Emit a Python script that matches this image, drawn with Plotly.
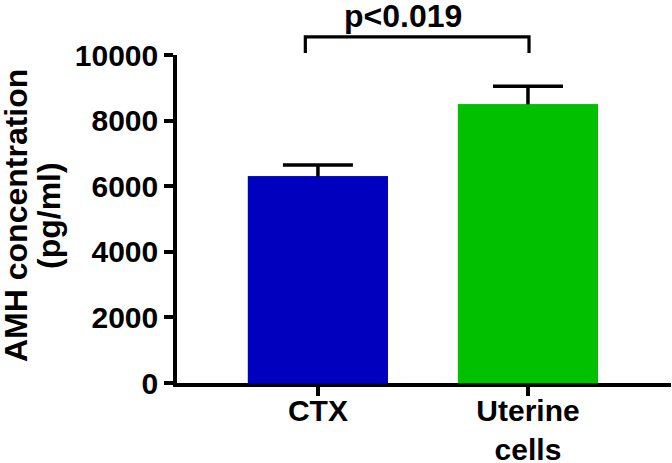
import plotly.graph_objects as go

# ---- data ----
categories = ["CTX", "Uterine<br>cells"]
means = [6300, 8500]
sem = [350, 550]
bar_colors = ["#0000BE", "#00C000"]
y_tick_vals = [0, 2000, 4000, 6000, 8000, 10000]
y_tick_text = ["0", "2000", "4000", "6000", "8000", "10000"]
p_label = "p<0.019"
y_title_lines = ["AMH concentration", "(pg/ml)"]

# ---- layout settings ----
x_pos = list(range(len(categories)))
x_range = [-0.671, 1.681]
y_range = [0, 10000]
bracket_x = [x_pos[0] - 0.06, x_pos[1] + 0.005]
bracket_y = [10060, 10550]
p_label_xy = (0.405, 11200)

FONT = "Liberation Sans, Arial, Helvetica, sans-serif"
LW = 3.5


def to_dom_x(v):
    return (v - x_range[0]) / (x_range[1] - x_range[0])


def to_dom_y(v):
    return (v - y_range[0]) / (y_range[1] - y_range[0])


fig = go.Figure()
# error bars (lower half hidden behind the bars drawn afterwards)
fig.add_trace(go.Bar(
    x=x_pos, y=means, width=0.667,
    marker=dict(color=bar_colors, line=dict(width=0)),
    error_y=dict(type="data", array=sem, symmetric=True,
                 color="black", thickness=LW, width=35),
    showlegend=False, hoverinfo="skip",
))
fig.add_trace(go.Bar(
    x=x_pos, y=means, width=0.667,
    marker=dict(color=bar_colors, line=dict(width=0)),
    showlegend=False,
))

# significance bracket
xl, xr = to_dom_x(bracket_x[0]), to_dom_x(bracket_x[1])
yb, yt = to_dom_y(bracket_y[0]), to_dom_y(bracket_y[1])
fig.add_shape(type="path", xref="x domain", yref="y domain",
              path=f"M {xl},{yb} L {xl},{yt} L {xr},{yt} L {xr},{yb}",
              line=dict(color="black", width=3.2))
fig.add_annotation(x=to_dom_x(p_label_xy[0]), y=to_dom_y(p_label_xy[1]),
                   xref="x domain", yref="y domain",
                   text=p_label, showarrow=False, yanchor="middle",
                   font=dict(family=FONT, size=32, color="black", weight="bold"))

# y-axis title (two rotated lines)
for line_text, shift in zip(y_title_lines, [-161, -128]):
    fig.add_annotation(x=0, y=0.5, xref="paper", yref="paper",
                       xanchor="center", yanchor="middle",
                       xshift=shift, yshift=3, textangle=-90,
                       text=line_text, showarrow=False,
                       font=dict(family=FONT, size=32, color="black", weight="bold"))

fig.update_layout(
    template="none",
    width=672, height=463,
    margin=dict(l=177, r=1, t=55, b=80),
    paper_bgcolor="white", plot_bgcolor="white",
    barmode="overlay",
    font=dict(family=FONT, color="black"),
)
fig.update_xaxes(
    range=x_range, tickvals=x_pos, ticktext=categories,
    automargin=False,
    showline=True, linewidth=LW, linecolor="black",
    ticks="outside", ticklen=9, tickwidth=LW, tickcolor="black",
    ticklabelstandoff=-11,
    showgrid=False, zeroline=False,
    tickfont=dict(family=FONT, size=30, color="black", weight="bold"),
)
fig.update_yaxes(
    range=y_range, tickvals=y_tick_vals, ticktext=y_tick_text,
    automargin=False,
    showline=True, linewidth=LW, linecolor="black",
    ticks="outside", ticklen=9, tickwidth=LW, tickcolor="black",
    showgrid=False, zeroline=False,
    tickfont=dict(family=FONT, size=30, color="black", weight="bold"),
)

fig.write_html("out.html", config={"displayModeBar": False},
               post_script="document.body.style.margin='0px';")
